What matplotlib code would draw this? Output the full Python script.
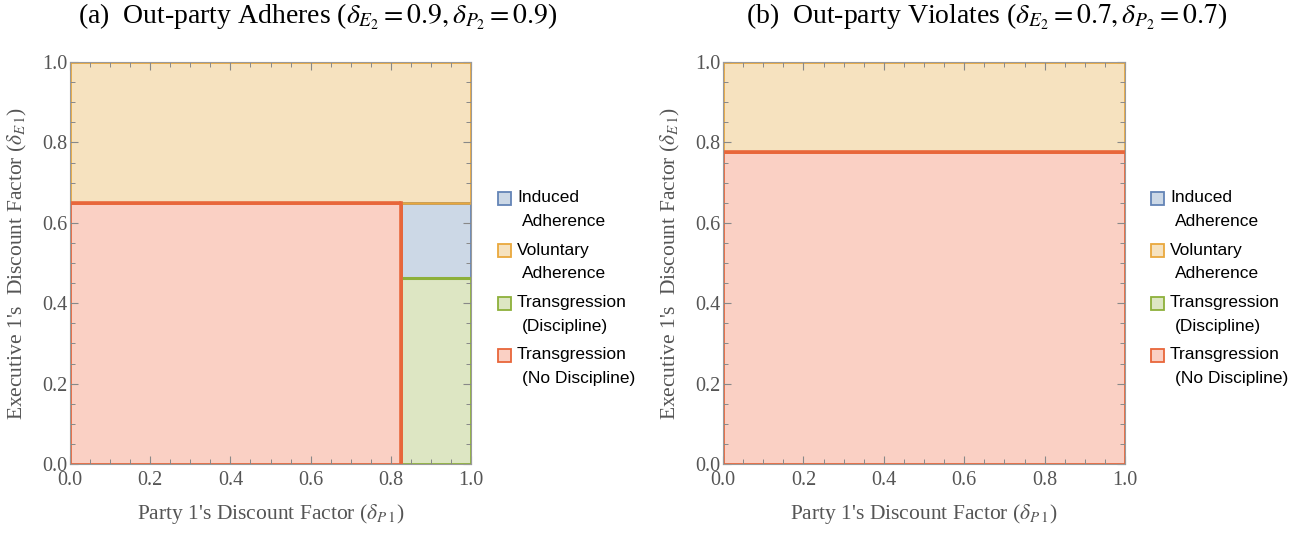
import matplotlib
matplotlib.use("Agg")
import matplotlib.pyplot as plt
from matplotlib.patches import Rectangle
from matplotlib.ticker import MultipleLocator

plt.rcParams['font.family'] = ['Liberation Serif', 'DejaVu Serif']
plt.rcParams['mathtext.fontset'] = 'stix'

# Data (thresholds)
panel_titles = [r"(a)  Out-party Adheres ($\delta_{E_2}=0.9,\delta_{P_2}=0.9$)",
                r"(b)  Out-party Violates ($\delta_{E_2}=0.7,\delta_{P_2}=0.7$)"]
# panel a thresholds
a_party_cut = 0.825
a_exec_upper = 0.65
a_exec_lower = 0.463
# panel b threshold
b_exec_cut = 0.777

legend_labels = ["Induced\nAdherence", "Voluntary\nAdherence",
                 "Transgression\n(Discipline)", "Transgression\n(No Discipline)"]
face_colors = ["#CCD8E6", "#F6E2BF", "#DDE6C3", "#FAD0C4"]
edge_colors = ["#6384B6", "#E9A83D", "#8DB03A", "#E8663A"]
tick_vals = [0.0, 0.2, 0.4, 0.6, 0.8, 1.0]

W, H = 1310, 534
fig = plt.figure(figsize=(W / 100, H / 100), dpi=100)
axA = fig.add_axes([70/W, 70/H, 401/W, 402/H])
axB = fig.add_axes([723/W, 70/H, 402/W, 402/H])

def rect(ax, x0, x1, y0, y1, idx, z):
    ax.add_patch(Rectangle((x0, y0), x1 - x0, y1 - y0, facecolor=face_colors[idx],
                           edgecolor=edge_colors[idx], linewidth=2.0, zorder=z))

# Panel a regions
rect(axA, 0, 1, a_exec_upper, 1, 1, 1)
rect(axA, a_party_cut, 1, a_exec_lower, a_exec_upper, 0, 1)
rect(axA, a_party_cut, 1, 0, a_exec_lower, 2, 1)
rect(axA, 0, a_party_cut, 0, a_exec_upper, 3, 1)
# internal boundaries
axA.plot([a_party_cut, 1], [a_exec_upper, a_exec_upper], color=edge_colors[1], lw=1.8, zorder=3)
axA.plot([a_party_cut, 1], [a_exec_lower, a_exec_lower], color=edge_colors[2], lw=2.2, zorder=3)
axA.plot([0, a_party_cut], [a_exec_upper, a_exec_upper], color=edge_colors[3], lw=2.6, zorder=4,
         solid_capstyle='butt')
axA.plot([a_party_cut, a_party_cut], [0, a_exec_upper], color=edge_colors[3], lw=2.6, zorder=4,
         solid_capstyle='projecting')

# Panel b regions
rect(axB, 0, 1, b_exec_cut, 1, 1, 1)
rect(axB, 0, 1, 0, b_exec_cut, 3, 1)
axB.plot([0, 1], [b_exec_cut, b_exec_cut], color=edge_colors[3], lw=2.6, zorder=4)

for ax, title, cx, lx in [(axA, panel_titles[0], 318, 498), (axB, panel_titles[1], 987, 1151)]:
    ax.set_xlim(0, 1)
    ax.set_ylim(0, 1)
    ax.xaxis.set_minor_locator(MultipleLocator(0.05))
    ax.yaxis.set_minor_locator(MultipleLocator(0.05))
    ax.set_xticks(tick_vals)
    ax.set_yticks(tick_vals)
    ax.set_xticklabels([f"{v:.1f}" for v in tick_vals])
    ax.set_yticklabels([f"{v:.1f}" for v in tick_vals])
    ax.tick_params(which='both', direction='in', top=True, right=True, colors='#888888',
                   labelcolor='#555555', labelsize=14.5)
    ax.tick_params(axis='x', which='major', pad=5)
    ax.tick_params(axis='y', which='major', pad=2)
    ax.tick_params(which='major', length=6, width=0.8)
    ax.tick_params(which='minor', length=3.5, width=0.7)
    for s in ax.spines.values():
        s.set_color('#9a9a9a')
        s.set_linewidth(0.8)
        s.set_zorder(5)
    ax.set_axisbelow(False)
    ax.set_xlabel(r"Party 1's Discount Factor ($\delta_{P\,1}$)", fontsize=15.5,
                  color='#555555', labelpad=9)
    ax.set_ylabel(r"Executive 1's  Discount Factor ($\delta_{E\,1}$)", fontsize=15.5,
                  color='#555555', labelpad=9)
    fig.text(cx / W, 1 - 17 / H, title, ha='center', va='center', fontsize=20, color='black')
    # manual legend (square aligned with first line, second line indented)
    first_y = [198, 250, 303, 355]
    for i, lab in enumerate(legend_labels):
        l1, l2 = lab.split("\n")
        y1 = first_y[i]
        fig.patches.append(Rectangle((lx / W, (H - y1 - 6.5) / H), 13 / W, 13 / H,
                                     transform=fig.transFigure, facecolor=face_colors[i],
                                     edgecolor=edge_colors[i], linewidth=1.3))
        fig.text((lx + 19) / W, 1 - y1 / H, l1, ha='left', va='center', fontsize=12.5,
                 family='Liberation Sans', color='black')
        fig.text((lx + 24) / W, 1 - (y1 + 24) / H, l2, ha='left', va='center', fontsize=12.5,
                 family='Liberation Sans', color='black')

fig.savefig("out.png", dpi=100)
